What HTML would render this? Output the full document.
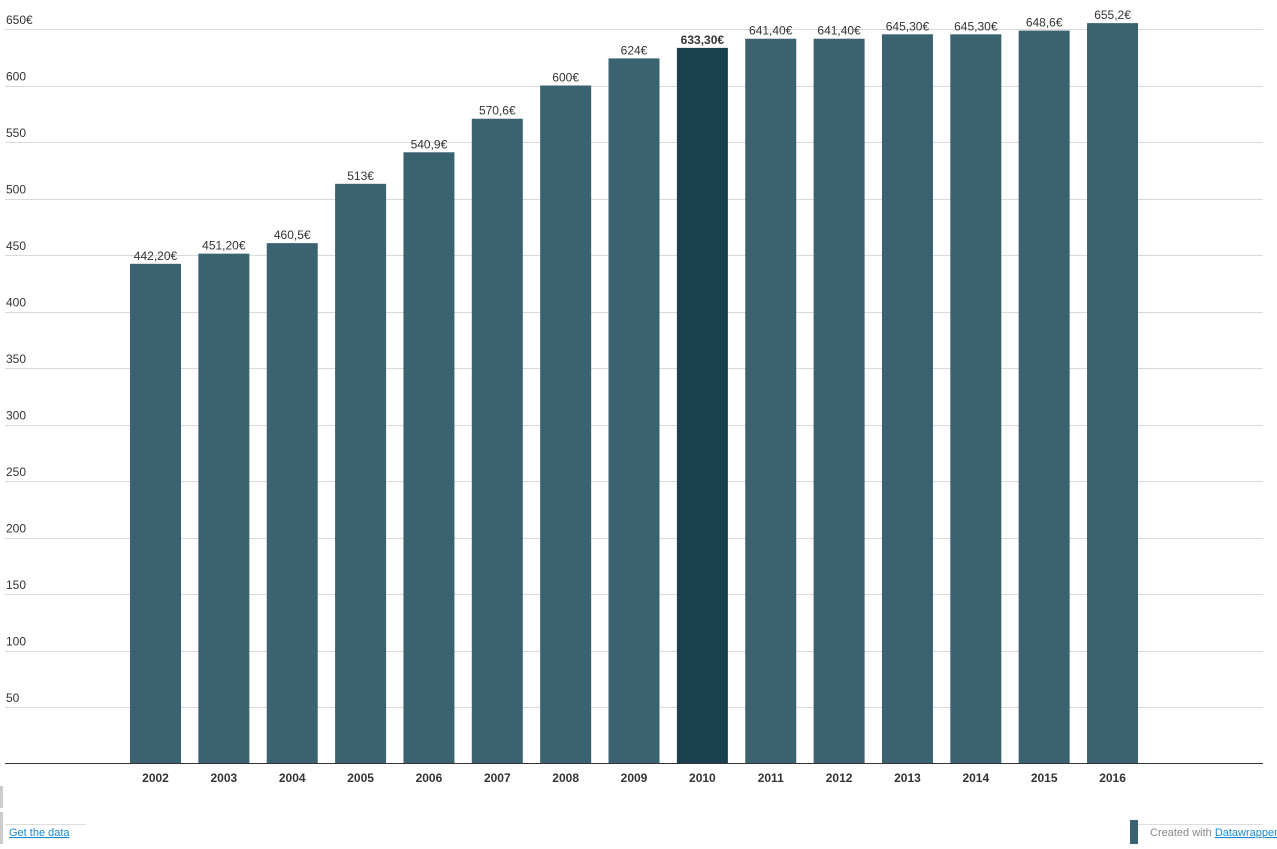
<!DOCTYPE html>
<html><head><meta charset="utf-8"><style>
body{margin:0;background:#fff;width:1277px;height:844px;overflow:hidden;font-family:"Liberation Sans",Arial,sans-serif}
svg text{font-family:"Liberation Sans",Arial,sans-serif}
a{color:#1a8ad0}
</style></head><body>
<svg id="chart" width="1277" height="844" xmlns="http://www.w3.org/2000/svg">
<g id="grid"></g>
<g id="bars"></g>
<line x1="5" x2="1263" y1="763.5" y2="763.5" stroke="#333" stroke-width="1"/>
<rect x="0" y="786" width="3" height="22" fill="#ccc"/>
<rect x="0" y="812" width="3" height="32" fill="#ccc"/>
<line x1="5" x2="86" y1="824.5" y2="824.5" stroke="#ddd"/>
<line x1="1138" x2="1263" y1="824.5" y2="824.5" stroke="#ddd"/>
<text x="9" y="836" font-size="11" fill="#1a8ad0" text-decoration="underline">Get the data</text>
<rect x="1130" y="820" width="8" height="24" fill="#3b6271"/>
<text x="1150" y="836" font-size="11" fill="#888">Created with <tspan fill="#1a8ad0" text-decoration="underline">Datawrapper</tspan></text>
</svg>
<script>
const years=["2002","2003","2004","2005","2006","2007","2008","2009","2010","2011","2012","2013","2014","2015","2016"];
const values=[442.2,451.2,460.5,513,540.9,570.6,600,624,633.3,641.4,641.4,645.3,645.3,648.6,655.2];
const valueLabels=["442,20€","451,20€","460,5€","513€","540,9€","570,6€","600€","624€","633,30€","641,40€","641,40€","645,30€","645,30€","648,6€","655,2€"];
const yTicks=[50,100,150,200,250,300,350,400,450,500,550,600,650];
const highlightYear="2010";
const NS="http://www.w3.org/2000/svg";
const y=v=>763.5-v*(734.5/650);
const x=i=>130+i*68.36;
const bw=51;
const g=document.getElementById('grid'),b=document.getElementById('bars');
yTicks.forEach(t=>{
  const l=document.createElementNS(NS,'line');
  
  
  l.setAttribute('x1',5);l.setAttribute('x2',1263);
  l.setAttribute('y1',Math.round(y(t))+0.5);l.setAttribute('y2',Math.round(y(t))+0.5);
  l.setAttribute('stroke','#d9d9d9');g.appendChild(l);
  const tx=document.createElementNS(NS,'text');
  
  
  tx.setAttribute('x',6);tx.setAttribute('y',y(t)-5);
  tx.setAttribute('font-size',12);tx.setAttribute('fill','#333');
  tx.textContent=t===650?t+'€':t;g.appendChild(tx);
});
years.forEach((yr,i)=>{
  const hl=yr===highlightYear;
  const r=document.createElementNS(NS,'rect');
  
  
  r.setAttribute('x',x(i));r.setAttribute('y',y(values[i]));
  r.setAttribute('width',bw);r.setAttribute('height',763.5-y(values[i]));
  r.setAttribute('fill',hl?'#1a3f4d':'#3b6271');b.appendChild(r);
  const v=document.createElementNS(NS,'text');
  
  
  v.setAttribute('x',x(i)+bw/2);v.setAttribute('y',y(values[i])-4);
  v.setAttribute('text-anchor','middle');v.setAttribute('font-size',12);
  v.setAttribute('fill','#333');if(hl)v.setAttribute('font-weight','bold');
  v.textContent=valueLabels[i];b.appendChild(v);
  const xl=document.createElementNS(NS,'text');
  
  
  xl.setAttribute('x',x(i)+bw/2);xl.setAttribute('y',782);
  xl.setAttribute('text-anchor','middle');xl.setAttribute('font-size',12);
  xl.setAttribute('font-weight','bold');xl.setAttribute('fill','#333');
  xl.textContent=yr;b.appendChild(xl);
});
</script>
</body></html>
